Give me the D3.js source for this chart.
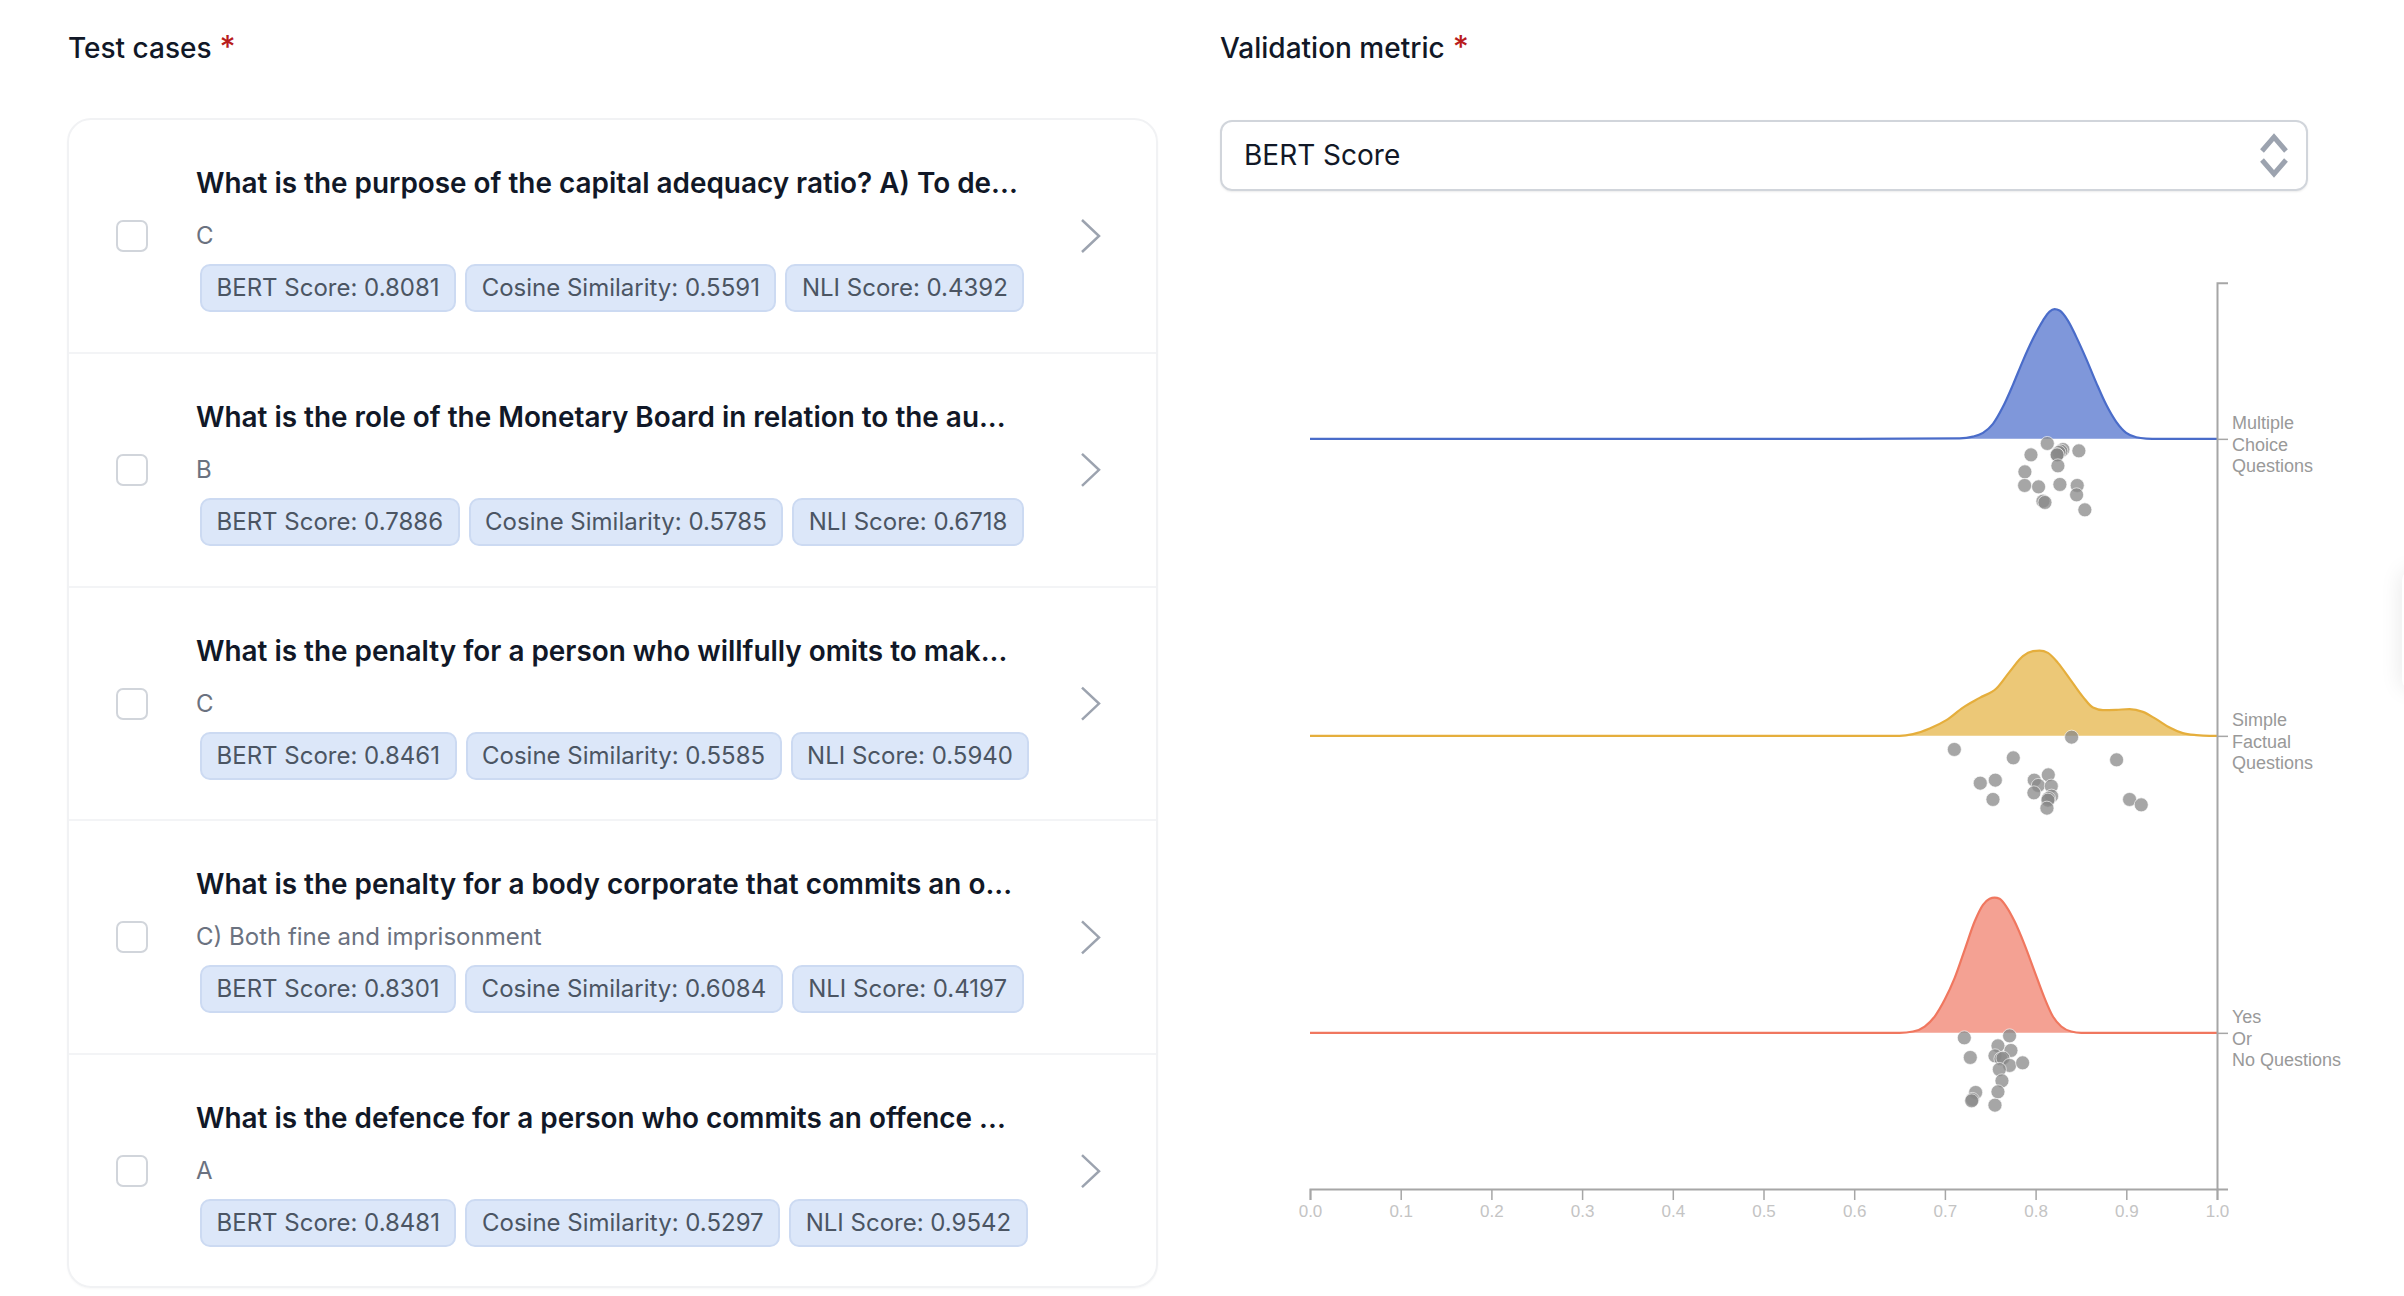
<!DOCTYPE html>
<html>
<head>
  <title>Test cases and validation metric</title>
  <script src="https://cdn.jsdelivr.net/npm/d3@7"></script>
  <style type="text/css">
html, body { margin: 0; padding: 0; background: #fff; width: 2404px; height: 1296px; overflow: hidden; font-family: Inter, sans-serif; }
.label { position: absolute; top: 30px; font-size: 28px; line-height: 36px; font-weight: 500; color: #111827; white-space: nowrap; }
.label span { color: #b91c1c; margin-left: 8px; font-size: 31px; line-height: 20px; }
#card { position: absolute; left: 67px; top: 118px; width: 1087px; height: 1166px; border: 2px solid #f1f2f4; border-radius: 24px; box-shadow: 0 1px 2px rgba(0,0,0,.03); }
.row { position: absolute; left: 0; width: 1087px; height: 234px; box-sizing: border-box; }
.row + .row { box-shadow: 0 -2px 0 #f3f4f6; }
.check { position: absolute; left: 47px; top: 100px; width: 32px; height: 32px; box-sizing: border-box; border: 2px solid #d1d5db; border-radius: 7px; }
.title { position: absolute; left: 127px; top: 44px; font-size: 27.9px; line-height: 38px; font-weight: 600; color: #111827; white-space: nowrap; }
.answer { position: absolute; left: 127px; top: 98px; font-size: 24px; line-height: 36px; color: #6b7280; white-space: nowrap; }
.chips { position: absolute; left: 131px; top: 144px; display: flex; gap: 9px; }
.chip { box-sizing: border-box; height: 48px; padding: 0 14.5px; background: #dce7f9; border: 2px solid #ccdaf2; border-radius: 10px; font-size: 24px; line-height: 44px; color: #4b5563; white-space: nowrap; }
#select { position: absolute; left: 1220px; top: 120px; width: 1088px; height: 71px; box-sizing: border-box; border: 2px solid #d1d5db; border-radius: 12px; box-shadow: 0 1px 2px rgba(0,0,0,.08); padding-left: 22px; font-size: 28px; line-height: 67px; color: #111827; }
#edge { position: absolute; left: 2402px; top: 570px; width: 20px; height: 120px; border-radius: 10px; box-shadow: 0 0 22px rgba(0,0,0,.1); }
svg { position: absolute; left: 0; top: 0; }
  </style>
</head>
<body>
<div class="label" style="left:68px">Test cases<span>*</span></div>
<div class="label" style="left:1220px">Validation metric<span>*</span></div>
<div id="card"></div>
<div id="select">BERT Score</div>
<div id="edge"></div>
<svg id="chart" width="2404" height="1296"></svg>
<script type="text/javascript">
var cases = [
  {q: "What is the purpose of the capital adequacy ratio? A) To de...", a: "C", bert: "0.8081", cos: "0.5591", nli: "0.4392"},
  {q: "What is the role of the Monetary Board in relation to the au...", a: "B", bert: "0.7886", cos: "0.5785", nli: "0.6718"},
  {q: "What is the penalty for a person who willfully omits to mak...", a: "C", bert: "0.8461", cos: "0.5585", nli: "0.5940"},
  {q: "What is the penalty for a body corporate that commits an o...", a: "C) Both fine and imprisonment", bert: "0.8301", cos: "0.6084", nli: "0.4197"},
  {q: "What is the defence for a person who commits an offence ...", a: "A", bert: "0.8481", cos: "0.5297", nli: "0.9542"}
];

// each curve is [score, height in px], dots are [score, px below the baseline]
var groups = [
  {name: "Multiple Choice Questions", lines: ["Multiple", "Choice", "Questions"], fill: "#7f97da", stroke: "#4a6cc9",
   curve: [[0,0],[.6,0],[.7163,.5],[.7309,2.2],[.742,6],[.753,15],[.764,32],[.775,54],[.786,78],[.7971,100],[.8081,118.3],[.8154,127.3],[.8209,129.7],[.8264,128.3],[.8356,118.3],[.8448,102],[.8558,80],[.8669,56],[.8779,34],[.8889,17],[.8999,6],[.911,1.6],[.922,.3],[.935,0],[1,0]],
   dots: [[.8129,4.6],[.8301,10.6],[.8279,12.3],[.8257,13.6],[.8235,16],[.8238,16],[.8477,12],[.7949,16],[.8246,27],[.7882,33],[.7879,46.6],[.8033,48],[.8268,45.6],[.8459,46.6],[.8452,56],[.8081,62.3],[.8103,63.6],[.8543,71]]},
  {name: "Simple Factual Questions", lines: ["Simple", "Factual", "Questions"], fill: "#ecc877", stroke: "#e5ae3c",
   curve: [[0,0],[.6,0],[.6501,0],[.6648,1.7],[.6832,7.3],[.7016,15.7],[.7199,28.3],[.7383,38],[.7567,47.3],[.7713,64],[.786,79.7],[.7971,84.7],[.8044,85.3],[.8136,83],[.8246,73],[.8375,57.3],[.8522,39],[.8632,28.3],[.8742,25.7],[.8889,26],[.9036,26.7],[.9183,24],[.933,16.7],[.9477,8.3],[.9623,2.7],[.9771,.7],[.9917,0],[1,0]],
   dots: [[.8397,1.3],[.7104,13.6],[.7754,22],[.8893,24],[.814,39],[.7556,44.3],[.739,47.3],[.7985,44.3],[.803,49.6],[.8173,50.3],[.7981,57],[.8176,60.3],[.8143,62.6],[.8136,64.3],[.753,63.6],[.8125,72.3],[.9036,63.6],[.9165,69]]},
  {name: "Yes Or No Questions", lines: ["Yes", "Or", "No Questions"], fill: "#f4a193", stroke: "#f0775f",
   curve: [[0,0],[.6,0],[.6501,0],[.6648,1.3],[.6777,6.3],[.6887,16.3],[.6997,33],[.7107,54.7],[.7218,83],[.7328,111.3],[.742,128],[.7493,134],[.7548,135.3],[.7603,134],[.7677,126.3],[.7769,111.3],[.7879,88],[.7989,61.3],[.8099,34.7],[.8191,16.3],[.8283,6.3],[.8393,1.3],[.8503,0],[1,0]],
   dots: [[.7214,5],[.7713,3],[.7585,13],[.7728,17.6],[.728,24.6],[.7552,23],[.7618,26],[.764,25.3],[.7713,32.6],[.7857,30],[.76,36.6],[.7629,48],[.7585,59],[.7339,59.6],[.7303,66.6],[.7295,68],[.7552,72.3]]}
];

// left list
var rows = d3.select("#card").selectAll(".row").data(cases).enter().append("div")
    .attr("class", "row")
    .style("top", function(d, i) { return (i * 233.8) + "px"; });
rows.append("div").attr("class", "check");
rows.append("div").attr("class", "title").text(function(d) { return d.q; });
rows.append("div").attr("class", "answer").text(function(d) { return d.a; });
var chips = rows.append("div").attr("class", "chips");
chips.append("div").attr("class", "chip").text(function(d) { return "BERT Score: " + d.bert; });
chips.append("div").attr("class", "chip").text(function(d) { return "Cosine Similarity: " + d.cos; });
chips.append("div").attr("class", "chip").text(function(d) { return "NLI Score: " + d.nli; });

var svg = d3.select("#chart");

// chevrons next to each row
svg.selectAll(".chev").data(cases).enter().append("path")
    .attr("class", "chev")
    .attr("d", "M0,0L17,16L0,32")
    .attr("transform", function(d, i) { return "translate(1082," + (220 + i * 233.8) + ")"; })
    .attr("fill", "none").attr("stroke", "#9ca3af").attr("stroke-width", 2.5);

// up/down marks of the select
svg.append("path").attr("d", "M2262,151L2274,137L2286,151M2262,160L2274,174L2286,160")
    .attr("fill", "none").attr("stroke", "#9ca3af").attr("stroke-width", 5);

var x = d3.scaleLinear().domain([0, 1]).range([1310, 2217]);
var y = d3.scalePoint().domain(groups.map(function(d) { return d.name; })).range([282.7, 1189]).padding(0.5258);

var area = d3.area().x(function(d) { return x(d[0]); }).y0(0).y1(function(d) { return -d[1]; }).curve(d3.curveMonotoneX);
var line = area.lineY1();

var g = svg.selectAll(".group").data(groups).enter().append("g")
    .attr("class", "group")
    .attr("transform", function(d) { return "translate(0," + y(d.name) + ")"; });
g.append("path").attr("d", function(d) { return area(d.curve); }).attr("fill", function(d) { return d.fill; });
g.append("path").attr("d", function(d) { return line(d.curve); }).attr("fill", "none")
    .attr("stroke", function(d) { return d.stroke; }).attr("stroke-width", 2.2);

var xAxis = svg.append("g").attr("transform", "translate(0,1189)")
    .call(d3.axisBottom(x).tickValues(d3.range(0, 1.01, 0.1)).tickFormat(d3.format(".1f")).tickSize(11).tickPadding(5));
var yAxis = svg.append("g").attr("transform", "translate(2217,0)")
    .call(d3.axisRight(y).tickSize(11).tickFormat(""));

svg.selectAll(".domain").attr("stroke", "#a6a6a6").attr("stroke-width", 2);
svg.selectAll(".tick line").attr("stroke", "#a6a6a6").attr("stroke-width", 1.5);
xAxis.selectAll("text").attr("font-family", "Liberation Sans").attr("font-size", 17).attr("fill", "#c4c4c4");

// multi line labels of the groups
var lab = svg.selectAll(".lab").data(groups).enter().append("text")
    .attr("class", "lab")
    .attr("font-family", "Liberation Sans").attr("font-size", 18).attr("fill", "#999")
    .attr("transform", function(d) { return "translate(2232," + y(d.name) + ")"; });
lab.selectAll("tspan").data(function(d) { return d.lines; }).enter().append("tspan")
    .attr("x", 0)
    .attr("y", function(d, i) { return -9.5 + i * 21.4; })
    .text(function(d) { return d; });

g.selectAll("circle").data(function(d) { return d.dots; }).enter().append("circle")
    .attr("cx", function(d) { return x(d[0]); })
    .attr("cy", function(d) { return d[1]; })
    .attr("r", 7)
    .attr("fill", "#888").attr("fill-opacity", 0.75)
    .attr("stroke", "#fff").attr("stroke-opacity", 0.7).attr("stroke-width", 0.9);
</script>
</body>
</html>
